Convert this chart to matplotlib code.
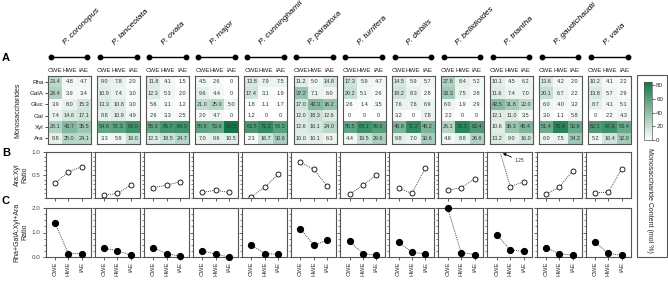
import numpy as np
import matplotlib
matplotlib.use("Agg")
import matplotlib.pyplot as plt
from matplotlib.colors import LinearSegmentedColormap
from matplotlib.ticker import MultipleLocator
from matplotlib.patches import Rectangle
import matplotlib.transforms as mtransforms

plt.rcParams['font.family'] = ['Liberation Sans', 'DejaVu Sans']

species = ["P. coronopus", "P. lanceolata", "P. ovata", "P. major", "P. cunninghamii",
           "P. paradoxa", "P. turrifera", "P. debilis", "P. bellidioides", "P. triantha",
           "P. gaudichaudii", "P. varia"]
extracts = ["CWE", "HWE", "IAE"]
sugars = ["Rha", "GalA", "Gluc", "Gal", "Xyl", "Ara"]

# monosaccharide content (mol %), rows = sugars, cols = CWE, HWE, IAE
coronopus = [[23.4, 4.8, 4.7], [28.4, 3.9, 3.4], [3.9, 8.0, 15.3], [7.4, 14.6, 17.1], [28.1, 43.7, 35.5], [8.8, 25.0, 24.1]]
lanceolata = [[9.0, 7.8, 2.0], [10.9, 7.4, 3.0], [13.3, 10.8, 3.0], [8.8, 10.9, 4.9], [54.8, 57.3, 68.0], [3.3, 5.9, 19.0]]
ovata = [[11.8, 4.1, 1.5], [12.3, 5.3, 2.0], [5.6, 3.1, 1.2], [2.6, 3.3, 2.5], [55.3, 65.7, 68.0], [12.3, 18.5, 24.7]]
major = [[4.5, 2.6, 0], [9.6, 4.4, 0], [21.0, 25.0, 5.0], [2.0, 4.7, 0], [55.9, 53.6, 84.5], [7.0, 9.6, 10.5]]
cunninghamii = [[13.8, 7.9, 7.5], [17.4, 3.1, 1.9], [1.8, 1.1, 1.7], [1.2, 0, 0], [63.5, 71.2, 58.3], [2.3, 16.7, 30.6]]
paradoxa = [[11.2, 5.0, 14.8], [37.2, 7.1, 6.0], [17.0, 43.3, 36.2], [12.0, 18.3, 12.6], [12.6, 16.1, 24.0], [10.0, 10.1, 6.3]]
turrifera = [[17.3, 5.9, 4.7], [20.2, 5.1, 2.6], [2.6, 1.4, 3.5], [0, 0, 0], [55.5, 68.1, 59.6], [4.4, 19.5, 29.6]]
debilis = [[14.5, 5.9, 5.7], [18.2, 8.3, 2.8], [7.6, 7.6, 6.9], [3.2, 0, 7.8], [46.8, 71.2, 46.2], [9.8, 7.0, 30.6]]
bellidioides = [[27.8, 8.4, 5.2], [33.3, 7.5, 2.8], [6.0, 1.9, 2.9], [2.2, 0, 0], [26.1, 75.3, 62.4], [4.6, 8.8, 26.6]]
triantha = [[10.1, 4.5, 6.2], [11.6, 7.4, 7.0], [42.5, 31.8, 22.0], [12.1, 11.0, 3.5], [10.6, 36.3, 45.4], [13.2, 9.0, 16.0]]
gaudichaudii = [[13.6, 4.2, 2.0], [20.1, 6.7, 2.2], [6.0, 4.0, 3.2], [3.0, 1.1, 5.8], [51.4, 76.4, 52.6], [6.0, 7.5, 34.2]]
varia = [[10.2, 4.1, 2.2], [13.8, 5.7, 2.9], [8.7, 4.1, 5.1], [0, 2.2, 4.3], [62.1, 67.6, 53.4], [5.2, 16.4, 32.0]]
content = [coronopus, lanceolata, ovata, major, cunninghamii, paradoxa, turrifera,
           debilis, bellidioides, triantha, gaudichaudii, varia]

# Ara:Xyl ratio
ara_xyl = [[0.32, 0.57, 0.68], [0.06, 0.10, 0.28], [0.22, 0.28, 0.35], [0.12, 0.17, 0.12],
           [0.03, 0.23, 0.52], [0.78, 0.62, 0.26], [0.08, 0.28, 0.50], [0.21, 0.10, 0.66],
           [0.17, 0.22, 0.42], [1.25, 0.25, 0.35], [0.08, 0.24, 0.59], [0.115, 0.125, 0.64]]
# Rha+GalA : Xyl+Ara ratio
rg_xa = [[1.40, 0.14, 0.14], [0.35, 0.26, 0.07], [0.38, 0.14, 0.03], [0.25, 0.12, 0.0],
         [0.48, 0.14, 0.11], [1.16, 0.48, 0.69], [0.64, 0.14, 0.08], [0.60, 0.20, 0.12],
         [1.99, 0.18, 0.10], [0.91, 0.29, 0.23], [0.38, 0.14, 0.07], [0.60, 0.15, 0.07]]

W, H = 668, 281
fig = plt.figure(figsize=(W / 100, H / 100), dpi=100)

def rect(l, t, w, h):
    return [l / W, 1 - (t + h) / H, w / W, h / H]

cmap = LinearSegmentedColormap.from_list("grn", ["#ffffff", "#0f7746"])
vmin, vmax = 0, 85
spine_c = "#555555"
pitch = 49.1

for i, name in enumerate(species):
    data = np.array(content[i], dtype=float)
    hl = 48 + i * pitch
    ax = fig.add_axes(rect(hl, 76, 43, 68))
    ax.imshow(data, cmap=cmap, vmin=vmin, vmax=vmax, aspect='auto',
              extent=(-0.5, 2.5, 5.5, -0.5), interpolation='nearest')
    for r in range(6):
        for c in range(3):
            v = data[r, c]
            s = "0" if v == 0 else f"{v:.1f}"
            ax.text(c, r, s, ha='center', va='center', fontsize=4, color="#333333")
    ax.set_xlim(-0.5, 2.5)
    ax.set_ylim(5.5, -0.5)
    ax.xaxis.tick_top()
    ax.set_xticks(range(3))
    ax.set_xticklabels(extracts, fontsize=4.5, color="#222222")
    ax.tick_params(axis='x', length=0, pad=2)
    ax.set_yticks(range(6))
    if i == 0:
        ax.set_yticklabels(sugars, fontsize=4.5, color="#222222")
        ax.tick_params(axis='y', length=2, width=0.5, pad=1)
    else:
        ax.set_yticklabels([])
        ax.tick_params(axis='y', length=0)
    for sp in ax.spines.values():
        sp.set_color(spine_c)
        sp.set_linewidth(0.8)
    # dumbbell
    trans = mtransforms.blended_transform_factory(ax.transData, ax.transAxes)
    yd = (144 - 57) / 68
    ax.plot([-0.3, 2.25], [yd, yd], color='black', lw=1, marker='o', markersize=3.2,
            transform=trans, clip_on=False)
    ax.text(0.72, (144 - 45) / 68, name, transform=trans, rotation=45,
            rotation_mode='anchor', ha='left', va='baseline', fontsize=6, style='italic')

    # B panel
    bl = 45.5 + i * pitch
    axb = fig.add_axes(rect(bl, 152, 45, 46))
    axb.plot(range(3), ara_xyl[i], linestyle=(0, (1.2, 1.2)), color='#333333', lw=0.6,
             marker='o', markersize=3.6, markerfacecolor='white', markeredgecolor='black',
             markeredgewidth=0.6)
    axb.set_ylim(0, 1.0)
    axb.set_xlim(-0.7, 2.65)
    axb.set_xticks(range(3))
    axb.set_xticklabels([])
    axb.set_yticks([0.5, 1.0])
    axb.yaxis.set_minor_locator(MultipleLocator(0.1))
    if i == 0:
        axb.set_yticklabels(["0.5", "1.0"], fontsize=4.5, color="#333333")
    else:
        axb.set_yticklabels([])
    axb.tick_params(axis='both', which='major', length=2.5, width=0.6, pad=1, colors="#444444")
    axb.tick_params(axis='y', which='minor', length=1.3, width=0.5, colors="#444444")
    for sp in axb.spines.values():
        sp.set_color(spine_c)
        sp.set_linewidth(0.8)
    if i == 9:
        axb.annotate("1.25", xy=(0.45, 0.97), xytext=(1.3, 0.82), fontsize=3.5,
                     color="#333333", ha='left', va='center',
                     arrowprops=dict(arrowstyle='-|>', lw=0.6, color='black',
                                     mutation_scale=4, shrinkA=0, shrinkB=0))

    # C panel
    axc = fig.add_axes(rect(bl, 208, 45, 49))
    axc.plot(range(3), rg_xa[i], linestyle=(0, (1.2, 1.2)), color='#333333', lw=0.6,
             marker='o', markersize=4.2, markerfacecolor='black', markeredgecolor='black',
             clip_on=False, zorder=3)
    axc.set_ylim(0, 2.0)
    axc.set_xlim(-0.7, 2.65)
    axc.set_xticks(range(3))
    axc.set_xticklabels(extracts, rotation=90, fontsize=4.5, color="#333333")
    axc.set_yticks([0, 1.0, 2.0])
    axc.yaxis.set_minor_locator(MultipleLocator(0.25))
    if i == 0:
        axc.set_yticklabels(["0.0", "1.0", "2.0"], fontsize=4.5, color="#333333")
    else:
        axc.set_yticklabels([])
    axc.tick_params(axis='both', which='major', length=2.5, width=0.6, pad=1, colors="#444444")
    axc.tick_params(axis='x', labelcolor="#333333")
    axc.tick_params(axis='y', which='minor', length=1.3, width=0.5, colors="#444444")
    for sp in axc.spines.values():
        sp.set_color(spine_c)
        sp.set_linewidth(0.8)

# y labels
fig.text(18 / W, 1 - 110 / H, "Monosaccharides", rotation=90, ha='center', va='center',
         fontsize=5, color="#222222")
fig.text(21 / W, 1 - 175 / H, "Ara:Xyl\nRatio", rotation=90, ha='center', va='center',
         fontsize=5, color="#222222", linespacing=1.1, multialignment='center')
fig.text(21 / W, 1 - 232 / H, "Rha+GalA:Xyl+Ara\nRatio", rotation=90, ha='center',
         va='center', fontsize=5, color="#222222", linespacing=1.1, multialignment='center')

# panel letters
for lab, y in [("A", 58), ("B", 153), ("C", 201)]:
    fig.text(2 / W, 1 - y / H, lab, fontsize=8, fontweight='bold', ha='left', va='center')

# colorbar box
box = Rectangle((637 / W, 1 - 257 / H), 30 / W, 182 / H, transform=fig.transFigure,
                fill=False, edgecolor=spine_c, lw=0.8)
fig.patches.append(box)
cax = fig.add_axes(rect(644, 82, 8, 58))
sm = plt.cm.ScalarMappable(cmap=cmap, norm=plt.Normalize(vmin, vmax))
cb = fig.colorbar(sm, cax=cax)
cb.set_ticks([0, 20, 40, 60, 80])
cb.ax.tick_params(labelsize=4.5, length=2, width=0.5, pad=1, colors="#333333")
cb.outline.set_edgecolor(spine_c)
cb.outline.set_linewidth(0.5)
fig.text(650 / W, 1 - 200 / H, "Monosaccharide Content (mol %)", rotation=270,
         ha='center', va='center', fontsize=5, color="#222222")

fig.savefig("out.png", dpi=100)
